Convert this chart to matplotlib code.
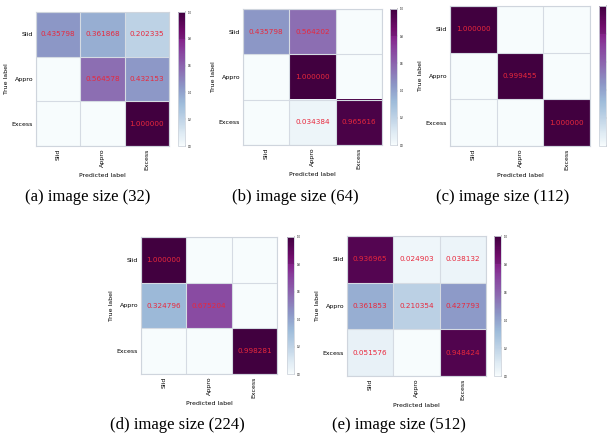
import matplotlib
matplotlib.use("Agg")
import matplotlib.pyplot as plt
from matplotlib.colors import ListedColormap
import numpy as np

classes = ["Slid", "Appro", "Excess"]

cm_32 = [[0.435798, 0.361868, 0.202335],
         [0.0, 0.564578, 0.432153],
         [0.0, 0.0, 1.000000]]
cm_64 = [[0.435798, 0.564202, 0.0],
         [0.0, 1.000000, 0.0],
         [0.0, 0.034384, 0.965616]]
cm_112 = [[1.000000, 0.0, 0.0],
          [0.0, 0.999455, 0.0],
          [0.0, 0.0, 1.000000]]
cm_224 = [[1.000000, 0.0, 0.0],
          [0.324796, 0.675204, 0.0],
          [0.0, 0.0, 0.998281]]
cm_512 = [[0.936965, 0.024903, 0.038132],
          [0.361853, 0.210354, 0.427793],
          [0.051576, 0.0, 0.948424]]

matrices = [cm_32, cm_64, cm_112, cm_224, cm_512]
captions = ["(a) image size (32)", "(b) image size (64)", "(c) image size (112)",
            "(d) image size (224)", "(e) image size (512)"]

W, H = 608, 441
fig = plt.figure(figsize=(W / 100, H / 100), dpi=100)

# BuPu pushed slightly towards purple, like the scanned figure
base = plt.get_cmap("BuPu")
rgb = base(np.linspace(0, 1, 256) ** 0.85)
rgb[:, :3] *= np.linspace(1.0, 0.85, 256)[:, None] ** (np.linspace(0, 1, 256)[:, None] > 0.8)
cmap = ListedColormap(rgb)

# pixel boxes: heatmap (x0, y0, x1, y1), colorbar x0, caption center x/y
boxes = [(36, 12, 169, 146), (243, 9, 382, 145), (450, 6, 590, 146),
         (141, 237, 277, 374), (347, 236, 486, 376)]
cbar_x = [178, 390, 599, 287, 494]
cap_pos = [(88, 197), (295, 197), (503, 197), (177, 425), (399, 425)]


def px(x0, y0, x1, y1):
    return [x0 / W, 1 - y1 / H, (x1 - x0) / W, (y1 - y0) / H]


for k, cm in enumerate(matrices):
    cm = np.array(cm)
    x0, y0, x1, y1 = boxes[k]
    ax = fig.add_axes(px(x0, y0, x1, y1))
    im = ax.imshow(cm, cmap=cmap, vmin=0, vmax=1, aspect="auto")
    ax.set_xticks(range(3))
    ax.set_xticklabels(classes, rotation=90, fontsize=4.5)
    ax.set_yticks(range(3))
    ax.set_yticklabels(classes, fontsize=4.5)
    ax.tick_params(length=0, pad=2)
    ax.set_xticks(np.arange(-0.5, 3, 1), minor=True)
    ax.set_yticks(np.arange(-0.5, 3, 1), minor=True)
    ax.grid(which="minor", color="#d5dbe3", linewidth=0.8)
    ax.tick_params(which="minor", length=0)
    for s in ax.spines.values():
        s.set_color("#cfd5dd")
        s.set_linewidth(0.8)
    ax.set_xlabel("Predicted label", fontsize=4.5, labelpad=2)
    ax.set_ylabel("True label", fontsize=4.5, labelpad=2)
    for i in range(3):
        for j in range(3):
            if cm[i, j] > 0:
                ax.text(j, i, "%.6f" % cm[i, j], ha="center", va="center",
                        color="#e8283c", fontsize=5.2)
    cax = fig.add_axes(px(cbar_x[k], y0, cbar_x[k] + 7, y1))
    cb = fig.colorbar(im, cax=cax)
    cb.set_ticks([0, 0.2, 0.4, 0.6, 0.8, 1.0])
    cb.ax.tick_params(labelsize=1.8, length=1, width=0.3, pad=1)
    if k == 2:
        # this colorbar runs off the right edge, its labels are not visible
        cb.ax.tick_params(labelright=False)
    cb.outline.set_edgecolor("#cfd5dd")
    cb.outline.set_linewidth(0.6)
    cx, cy = cap_pos[k]
    fig.text(cx / W, 1 - cy / H, captions[k], ha="center", va="center",
             fontsize=12, family="Liberation Serif")

fig.savefig("out.png", dpi=100)
